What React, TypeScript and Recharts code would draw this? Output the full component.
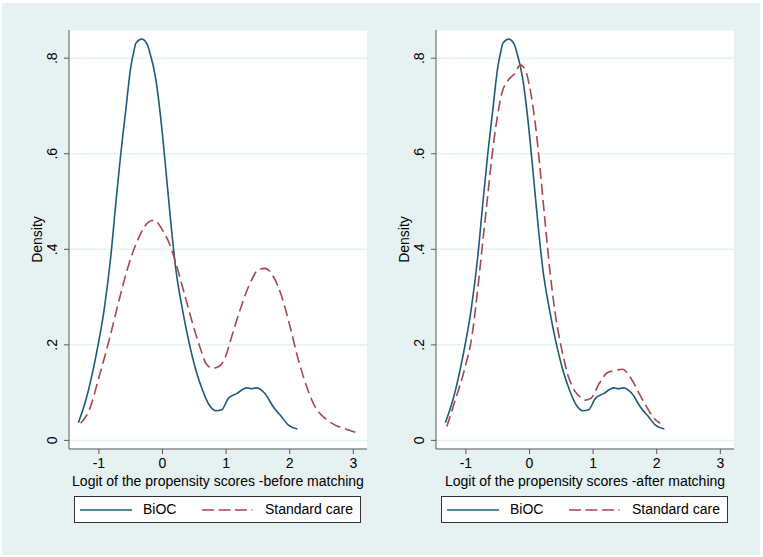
import React from 'react';
import { LineChart, Line, XAxis, YAxis, CartesianGrid, Legend } from 'recharts';

// kernel density, BiOC group (same curve in both panels)
const biocX = [-1.323, -1.206, -1.049, -0.918, -0.813, -0.734, -0.655, -0.577, -0.498, -0.446, -0.42, -0.325, -0.236, -0.21, -0.104, -0.025, 0.053, 0.132, 0.211, 0.315, 0.42, 0.525, 0.63, 0.735, 0.84, 0.93, 1.035, 1.166, 1.323, 1.4, 1.48, 1.61, 1.743, 1.874, 1.98, 2.12];
const biocY = [0.037, 0.084, 0.175, 0.273, 0.385, 0.496, 0.601, 0.692, 0.782, 0.817, 0.831, 0.84, 0.828, 0.817, 0.755, 0.671, 0.566, 0.454, 0.357, 0.273, 0.203, 0.147, 0.105, 0.074, 0.062, 0.064, 0.088, 0.098, 0.11, 0.108, 0.11, 0.098, 0.07, 0.049, 0.032, 0.024];

// standard care, before matching
const stdBeforeX = [-1.285, -1.154, -0.997, -0.839, -0.682, -0.524, -0.367, -0.21, -0.13, 0, 0.105, 0.21, 0.342, 0.472, 0.604, 0.683, 0.787, 0.877, 0.982, 1.087, 1.219, 1.376, 1.507, 1.612, 1.743, 1.874, 2.006, 2.137, 2.268, 2.4, 2.557, 2.715, 2.898, 3.082];
const stdBeforeY = [0.036, 0.063, 0.133, 0.21, 0.294, 0.371, 0.426, 0.458, 0.461, 0.44, 0.413, 0.371, 0.308, 0.245, 0.189, 0.161, 0.151, 0.154, 0.172, 0.217, 0.273, 0.329, 0.357, 0.36, 0.343, 0.301, 0.238, 0.168, 0.112, 0.07, 0.046, 0.032, 0.023, 0.015];

// standard care, after matching
const stdAfterX = [-1.3, -1.168, -1.011, -0.906, -0.827, -0.748, -0.67, -0.591, -0.513, -0.434, -0.33, -0.225, -0.146, -0.068, 0.011, 0.09, 0.168, 0.247, 0.325, 0.404, 0.509, 0.613, 0.718, 0.824, 0.86, 0.965, 1.096, 1.226, 1.332, 1.462, 1.594, 1.725, 1.855, 1.96, 2.055];
const stdAfterY = [0.029, 0.084, 0.154, 0.217, 0.301, 0.399, 0.496, 0.594, 0.671, 0.727, 0.755, 0.769, 0.786, 0.776, 0.734, 0.664, 0.566, 0.454, 0.35, 0.266, 0.189, 0.133, 0.102, 0.088, 0.084, 0.088, 0.119, 0.142, 0.146, 0.149, 0.13, 0.098, 0.067, 0.046, 0.036];

const xTicks = [-1, 0, 1, 2, 3];
const yTicks = [0, 0.2, 0.4, 0.6, 0.8];
const yTickLabels = ['0', '.2', '.4', '.6', '.8'];
const seriesNames = ['BiOC', 'Standard care'];
const xTitles = ['Logit of the propensity scores -before matching', 'Logit of the propensity scores -after matching'];

const FONT = '"Liberation Sans", Arial, sans-serif';
const BG = '#E6F1F2';
const AXIS = '#5a5a5a';
const NAVY = '#1E5B7B';
const MAROON = '#A8474C';
const DASH = '11 5';

const toPoints = (xs: number[], ys: number[]) => xs.map((x, i) => ({ x, y: ys[i] }));

const YTick = ({ x, y, payload }: any) => {
  const i = yTicks.indexOf(payload.value);
  return (
    <text
      transform={`translate(${x - 9.5},${y}) rotate(-90)`}
      textAnchor="middle"
      dy="0.35em"
      fill="#000"
      fontSize={14}
      fontFamily={FONT}
    >
      {i >= 0 ? yTickLabels[i] : payload.value}
    </text>
  );
};

const LegendBox = () => (
  <div
    style={{
      width: 287,
      height: 27,
      boxSizing: 'border-box',
      border: '1px solid #333',
      background: '#fff',
      position: 'relative',
      fontFamily: FONT,
      fontSize: 14,
      color: '#000',
    }}
  >
    <svg width={287} height={27} style={{ position: 'absolute', left: -1, top: -1 }}>
      <line x1={6} x2={58} y1={14} y2={14} stroke={NAVY} strokeWidth={1.6} />
      <line x1={128} x2={178.5} y1={14} y2={14} stroke={MAROON} strokeWidth={1.6} strokeDasharray="12 4.5" />
    </svg>
    <span style={{ position: 'absolute', left: 68, top: 4 }}>{seriesNames[0]}</span>
    <span style={{ position: 'absolute', left: 190, top: 4 }}>{seriesNames[1]}</span>
  </div>
);

const Panel = ({ left, title, std }: { left: number; title: string; std: { x: number; y: number }[] }) => (
  <div style={{ position: 'absolute', left, top: 0 }}>
    <LineChart width={380} height={557} margin={{ top: 30, right: 13, bottom: 68, left: 29 }}>
      <CartesianGrid vertical={false} fill="#ffffff" stroke={BG} strokeWidth={1.5} />
      <XAxis
        type="number"
        dataKey="x"
        domain={[-1.47, 3.215]}
        ticks={xTicks}
        allowDataOverflow
        height={40}
        tickSize={5}
        tickMargin={4}
        stroke={AXIS}
        tick={{ fill: '#000', fontSize: 14, fontFamily: FONT }}
        label={{
          value: title,
          position: 'insideBottom',
          offset: 3,
          fill: '#000',
          fontSize: 14,
          fontFamily: FONT,
        }}
      />
      <YAxis
        type="number"
        domain={[-0.018, 0.859]}
        ticks={yTicks}
        allowDataOverflow
        width={40}
        tickSize={5}
        stroke={AXIS}
        tick={<YTick />}
        label={{
          value: 'Density',
          angle: -90,
          position: 'insideLeft',
          offset: 8,
          fill: '#000',
          fontSize: 14,
          fontFamily: FONT,
          style: { textAnchor: 'middle' },
        }}
      />
      <Line
        data={toPoints(biocX, biocY)}
        dataKey="y"
        name={seriesNames[0]}
        type="monotone"
        stroke={NAVY}
        strokeWidth={1.6}
        dot={false}
        activeDot={false}
        isAnimationActive={false}
      />
      <Line
        data={std}
        dataKey="y"
        name={seriesNames[1]}
        type="monotone"
        stroke={MAROON}
        strokeWidth={1.6}
        strokeDasharray={DASH}
        dot={false}
        activeDot={false}
        isAnimationActive={false}
      />
      <Legend
        layout="horizontal"
        verticalAlign="middle"
        align="center"
        wrapperStyle={{ left: 74, top: 496, width: 287, height: 27 }}
        content={() => <LegendBox />}
      />
    </LineChart>
  </div>
);

export default function App() {
  return (
    <div style={{ position: 'absolute', left: 0, top: 0, width: 763, height: 557, background: '#fff', overflow: 'hidden' }}>
      <div style={{ position: 'absolute', left: 2, top: 3, width: 758, height: 552, background: BG }} />
      <Panel left={0} title={xTitles[0]} std={toPoints(stdBeforeX, stdBeforeY)} />
      <Panel left={367} title={xTitles[1]} std={toPoints(stdAfterX, stdAfterY)} />
    </div>
  );
}
